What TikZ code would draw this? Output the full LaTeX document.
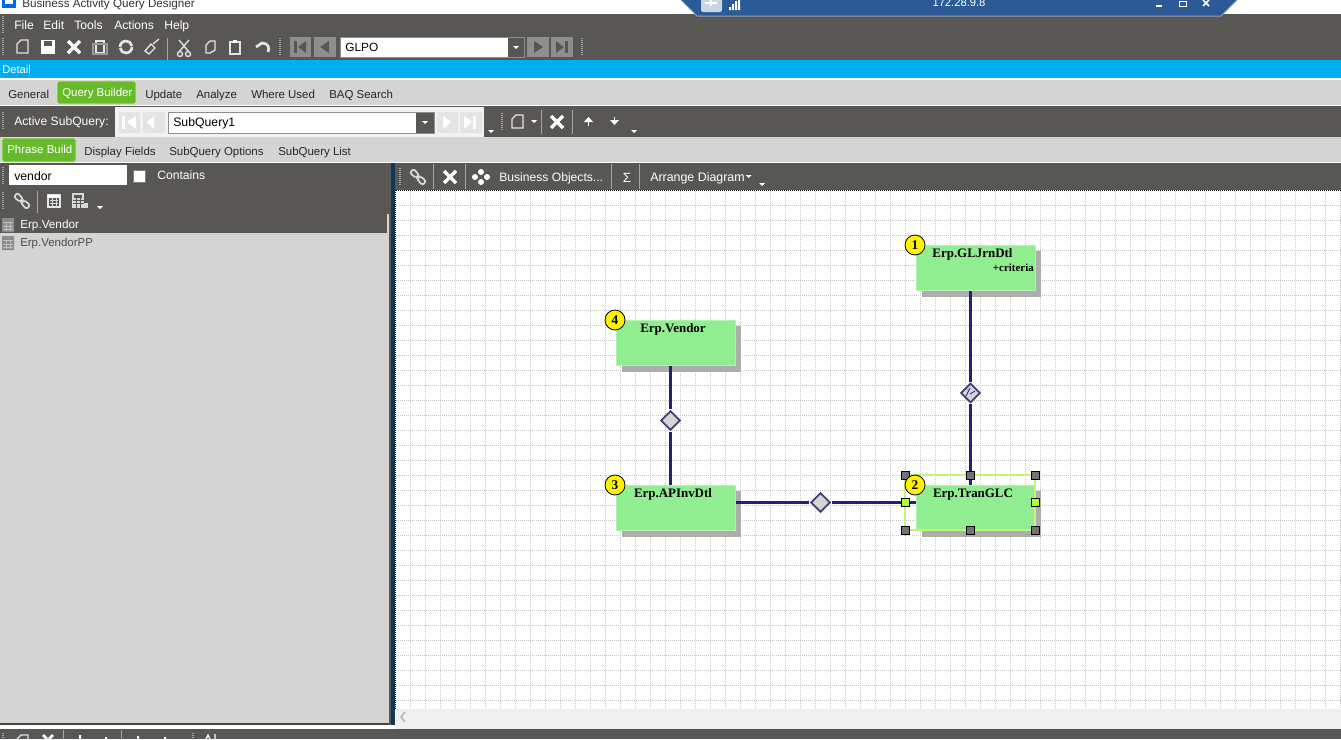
\documentclass[tikz,border=0pt]{standalone}
\usepackage{fontspec}
\setmainfont{Liberation Sans}
\newfontfamily\boxfont{Liberation Serif}
\usetikzlibrary{shapes.geometric,shadows}
\definecolor{barcol}{HTML}{595754}
\definecolor{panelcol}{HTML}{D4D4D4}
\definecolor{skycol}{HTML}{00AEEF}
\definecolor{tabgreen}{HTML}{67BB2A}
\definecolor{boxgreen}{HTML}{90EE90}
\definecolor{linecol}{HTML}{22226E}
\definecolor{diacol}{HTML}{3F3F72}
\definecolor{remotecol}{HTML}{2B5A96}
\definecolor{selcol}{HTML}{C4F47C}
\definecolor{navcol}{HTML}{8E8E8C}
\definecolor{navpale}{HTML}{E4E4E4}
\definecolor{dividercol}{HTML}{0F3A57}
\definecolor{handlegreen}{HTML}{ADFF2F}
\tikzset{
  uitext/.style={anchor=west,inner sep=0pt,yshift=-1.1pt,text height=6pt,text depth=1.8pt,font=\fontsize{8.6}{10}\selectfont},
  bartext/.style={uitext,text=white,font=\fontsize{9.1}{10}\selectfont},
  lighttext/.style={uitext,text=white},
  darktext/.style={uitext,text=black!85},
  tablebox/.style={rectangle,fill=boxgreen,draw=boxgreen!70!white,line width=0.75pt,
    minimum width=89.5pt,minimum height=34pt,inner sep=0pt,
    drop shadow={shadow xshift=4.5pt,shadow yshift=-4.5pt,fill=black!32,opacity=1}},
  tablename/.style={inner sep=0pt,yshift=-0.6pt,text height=6pt,text depth=1.8pt,font=\boxfont\bfseries\fontsize{9.7}{11}\selectfont},
  numbadge/.style={circle,fill=yellow,draw=black,line width=0.6pt,minimum size=15pt,inner sep=0pt,
    font=\boxfont\bfseries\fontsize{10}{10}\selectfont},
  joindia/.style={diamond,aspect=1,fill=panelcol,draw=diacol,line width=1.3pt,minimum size=15pt,
    inner sep=0pt,outer sep=1pt},
  joinline/.style={draw=linecol,line width=1.7pt},
  handle/.style={rectangle,fill=black!55,draw=black,line width=0.5pt,minimum size=6pt,inner sep=0pt},
  greenhandle/.style={handle,fill=handlegreen},
  gridline/.style={draw=black!22,line width=0.5pt,dash pattern=on 0.75pt off 0.75pt},
  sepline/.style={draw=black!35!white,line width=0.5pt},
  iconline/.style={draw=white!90!black,line width=1pt},
  tabcard/.style={rounded corners=1.5pt,fill=tabgreen,draw=white!70!tabgreen,line width=0.6pt},
}
\newcommand{\crossicon}[2]{\draw[white,line width=2.4pt] (#1-6,#2-6) -- (#1+6,#2+6) (#1-6,#2+6) -- (#1+6,#2-6);}
\newcommand{\linkicon}[2]{\draw[black!15,line width=1.3pt,rounded corners=1.5pt] (#1-8,#2-4) -- (#1-5,#2-8) -- (#1-1,#2-5) -- (#1+1,#2-1) -- (#1-2,#2+1) -- cycle;
  \draw[black!15,line width=1.3pt,rounded corners=1.5pt] (#1+8,#2+4) -- (#1+5,#2+8) -- (#1+1,#2+5) -- (#1-1,#2+1) -- (#1+2,#2-1) -- cycle;}
\newcommand{\gripicon}[2]{\draw[black!35!white,line width=1.5pt,dash pattern=on 0.75pt off 0.75pt] (#1,#2-9) -- (#1,#2+9);}
\newcommand{\dropicon}[2]{\fill[white] (#1-3,#2) -- (#1+3,#2) -- (#1,#2+3) -- cycle;}
\begin{document}
\begin{tikzpicture}[x=0.75pt,y=-0.75pt]
\useasboundingbox (0,0) rectangle (1341,739);
\clip (0,0) rectangle (1341,739);
% bands
\fill[white] (0,0) rectangle (1341,739);
\fill[barcol] (0,14) rectangle (1341,60);
\fill[skycol] (0,60) rectangle (1341,78);
\fill[panelcol] (0,80) rectangle (1341,105);
\fill[barcol] (0,106) rectangle (1341,137);
\fill[panelcol] (0,137) rectangle (1341,162);
\fill[barcol] (0,163) rectangle (1341,190);
\fill[barcol] (0,190) rectangle (390,214);
\fill[panelcol] (0,214) rectangle (390,723);
\fill[barcol] (0,214) rectangle (387,233);
\fill[barcol!80!black] (0,723) rectangle (390,725);
\fill[barcol] (0,729) rectangle (1341,739);
\fill[barcol] (389,163) rectangle (391,725);
\fill[dividercol] (391,163) rectangle (395,725);
\fill[black!6] (396,709) rectangle (1341,729);
% canvas grid
\foreach \gx in {410,425,...,1340} \draw[gridline] (\gx,191) -- (\gx,709);
\foreach \gy in {205,220,...,700} \draw[gridline] (396,\gy) -- (1341,\gy);
\draw[black,line width=0.75pt,dash pattern=on 0.75pt off 0.75pt] (396,190.5) -- (1341,190.5) (395.5,190) -- (395.5,709);
\draw[black!28,line width=1.3pt] (405,712) -- (401,717) -- (405,722);
% title and remote bar
\fill[skycol!60!blue] (2,-4) rectangle (16,8);
\fill[white] (5,-4) rectangle (13,4);
\node[anchor=base west,inner sep=0pt,text=black!80,font=\fontsize{8.75}{10}\selectfont] (titletext) at (22,7.5) {Business Activity Query Designer};
\fill[remotecol] (680,-1) -- (697,16) -- (1221,16) -- (1238,-1) -- cycle;
\draw[remotecol!55!white,line width=0.75pt] (680,-1) -- (697,16) -- (1221,16) -- (1238,-1);
\fill[white!75!remotecol,rounded corners=1.5pt] (701,-3) rectangle (722,12);
\draw[white,line width=1.5pt] (711,0) -- (711,6) (705,3) -- (717,3);
\fill[white] (729,7) rectangle (731,10) (732,4) rectangle (734,10) (735,1) rectangle (737,10) (738,-1) rectangle (740,10);
\node[inner sep=0pt,text=white,font=\fontsize{8.4}{10}\selectfont] (hostip) at (959,3) {172.28.9.8};
\fill[white] (1156,5) rectangle (1162,7);
\draw[white,line width=0.75pt] (1179,1) rectangle (1186,6);
\draw[white,line width=1.3pt] (1203,0) -- (1209,6) (1203,6) -- (1209,0);
% menu
\gripicon{3}{25}
\node[bartext] (menufile) at (14,25) {File};
\node[bartext] (menuedit) at (43,25) {Edit};
\node[bartext] (menutools) at (74,25) {Tools};
\node[bartext] (menuactions) at (114,25) {Actions};
\node[bartext] (menuhelp) at (164,25) {Help};
% main toolbar
\gripicon{3}{47}
\draw[iconline] (17,53) -- (17,44) -- (21,40) -- (28,40) -- (28,53) -- cycle;
\fill[white] (41,40) rectangle (55,54);
\fill[barcol] (44,41) rectangle (52,46);
\crossicon{74}{47}
\draw[iconline] (96,41) rectangle (104,53);
\draw[iconline,black!40!white] (93,44) rectangle (107,54);
\draw[iconline,line width=2pt] (120,47) arc (180:350:6);
\draw[iconline,line width=2pt] (132,47) arc (0:170:6);
\draw[iconline] (145,51) -- (151,44) -- (155,48) -- (149,54) -- cycle;
\draw[iconline] (153,44) -- (159,39);
\draw[sepline] (167,38) -- (167,60);
\draw[iconline] (179,40) -- (189,52) (189,40) -- (179,52);
\draw[iconline] (180,54) circle (2.5);
\draw[iconline] (188,54) circle (2.5);
\draw[iconline] (206,45) -- (210,41) -- (215,41) -- (215,50) -- (210,53) -- (206,53) -- cycle;
\draw[iconline] (230,42) rectangle (240,54);
\fill[white] (233,40) rectangle (237,43);
\draw[iconline,line width=2pt] (256,47) -- (262,43) .. controls (268,43) and (270,48) .. (268,52);
\gripicon{280}{47}
\fill[navcol] (290,37) rectangle (311,57);
\fill[navcol] (314,37) rectangle (336,57);
\fill[barcol] (294,41) rectangle (297,53);
\fill[barcol] (306,41) -- (298,47) -- (306,53) -- cycle;
\fill[barcol] (329,41) -- (320,47) -- (329,53) -- cycle;
\fill[white] (340,37) rectangle (508,57);
\fill[barcol] (508,37) rectangle (524,57);
\draw[navcol,line width=0.75pt] (340,37) rectangle (524,57);
\dropicon{516}{46}
\node[uitext,text=black,font=\fontsize{8.9}{10}\selectfont] (glpofield) at (345,47.5) {GLPO};
\fill[navcol] (527,37) rectangle (549,57);
\fill[navcol] (551,37) rectangle (573,57);
\fill[barcol] (534,41) -- (543,47) -- (534,53) -- cycle;
\fill[barcol] (556,41) -- (564,47) -- (556,53) -- cycle;
\fill[barcol] (565,41) rectangle (568,53);
\gripicon{582}{47}
% detail band and first tabs
\node[lighttext,font=\fontsize{8.4}{10}\selectfont] (detailbar) at (2,69) {Detail};
\node[darktext] (tabgeneral) at (8,94) {General};
\path[tabcard] (57,104) -- (57,81) -- (136,81) -- (136,104) -- cycle;
\node[lighttext] (tabquery) at (62,92) {Query Builder};
\node[darktext] (tabupdate) at (145,94) {Update};
\node[darktext] (tabanalyze) at (196,94) {Analyze};
\node[darktext] (tabwhere) at (251,94) {Where Used};
\node[darktext] (tabsearch) at (329,94) {BAQ Search};
% subquery toolbar
\gripicon{3}{121}
\node[bartext] (activelabel) at (14,121) {Active SubQuery:};
\fill[white!95!black] (115,107) rectangle (484,137);
\fill[navpale] (119,112) rectangle (140,133) (143,112) rectangle (165,133) (437,112) rectangle (458,133) (460,112) rectangle (482,133);
\fill[white] (122,116) rectangle (125,129);
\fill[white] (136,116) -- (127,122) -- (136,129) -- cycle;
\fill[white] (154,116) -- (147,122) -- (154,129) -- cycle;
\fill[white] (443,116) -- (451,122) -- (443,129) -- cycle;
\fill[white] (464,116) -- (472,122) -- (464,129) -- cycle;
\fill[white] (473,116) rectangle (476,129);
\fill[white] (168,112) rectangle (416,133);
\fill[barcol] (416,112) rectangle (434,133);
\draw[navcol,line width=0.75pt] (168,112) rectangle (434,133);
\dropicon{425}{121}
\node[uitext,text=black,font=\fontsize{9.2}{10}\selectfont] (subqueryfield) at (173,122) {SubQuery1};
\dropicon{491}{130}
\gripicon{502}{122}
\draw[iconline] (512,128) -- (512,119) -- (516,115) -- (523,115) -- (523,128) -- cycle;
\dropicon{534}{120}
\draw[sepline] (541,110) -- (541,134);
\crossicon{557}{122}
\draw[sepline] (572,110) -- (572,134);
\draw[white,line width=1.2pt] (588.5,126) -- (588.5,120);
\fill[white] (584,122) -- (588.5,117) -- (593,122) -- cycle;
\draw[white,line width=1.2pt] (614.5,117) -- (614.5,122);
\fill[white] (610,120) -- (614.5,125) -- (619,120) -- cycle;
\dropicon{634}{130}
% second tabs
\path[tabcard] (2,162) -- (2,138) -- (76,138) -- (76,162) -- cycle;
\node[lighttext] (tabphrase) at (7,149) {Phrase Build};
\node[darktext] (tabfields) at (84,151) {Display Fields};
\node[darktext] (taboptions) at (169,151) {SubQuery Options};
\node[darktext] (tablist) at (278,151) {SubQuery List};
% left panel
\gripicon{3}{176}
\fill[white] (9,165) rectangle (127,185);
\node[uitext,text=black,font=\fontsize{9.2}{10}\selectfont] (vendorfield) at (14,176) {vendor};
\fill[white] (133,170) rectangle (145,182);
\draw[black!50,line width=0.5pt] (133,170) rectangle (145,182);
\node[bartext] (containslabel) at (157,175.5) {Contains};
\gripicon{3}{201}
\linkicon{22}{201}
\draw[sepline] (37,191) -- (37,213);
\draw[iconline] (48,195) rectangle (60,207);
\fill[white] (48,195) rectangle (60,198);
\draw[black!15,line width=0.75pt] (50,200) -- (58,200) (50,203) -- (58,203) (52,198) -- (52,206) (56,198) -- (56,206);
\fill[black!15] (72,193) rectangle (84,208);
\fill[black!15] (84,203) rectangle (88,208);
\fill[barcol] (74,195) rectangle (82,198);
\draw[barcol,line width=0.6pt] (73,200) -- (84,200) (73,203) -- (84,203) (76,198) -- (76,208) (80,198) -- (80,208);
\dropicon{100}{206}
\fill[black!45] (2,218) rectangle (14,232) (2,236) rectangle (14,250);
\draw[black!25,line width=0.5pt] (3,222) -- (13,222) (3,226) -- (13,226) (3,229) -- (13,229) (6,222) -- (6,231) (10,222) -- (10,231);
\draw[black!25,line width=0.5pt] (3,240) -- (13,240) (3,244) -- (13,244) (3,247) -- (13,247) (6,240) -- (6,249) (10,240) -- (10,249);
\node[lighttext,font=\fontsize{8.8}{10}\selectfont] (listvendor) at (20,224) {Erp.Vendor};
\node[uitext,text=black!70] (listvendorpp) at (20,242) {Erp.VendorPP};
% canvas toolbar
\gripicon{400}{177}
\linkicon{418}{177}
\draw[sepline] (433,164) -- (433,189);
\crossicon{450}{177}
\draw[sepline] (465,164) -- (465,189);
\fill[white] (481,172) circle (3) (475,177) circle (3) (481,182) circle (3) (487,177) circle (3);
\node[bartext] (objectsbutton) at (499,177) {Business Objects...};
\draw[sepline] (611,164) -- (611,189);
\node[inner sep=0pt,text=white,font=\fontsize{10}{11}\selectfont] (sumbutton) at (627,178) {Σ};
\draw[sepline] (639,164) -- (639,189);
\node[bartext,font=\fontsize{9.3}{10}\selectfont] (arrangebutton) at (650,177) {Arrange Diagram};
\dropicon{748.5}{175}
\dropicon{762}{183}
% bottom toolbar edge
\draw[black!35!white,line width=1.5pt,dash pattern=on 0.75pt off 0.75pt] (3,733) -- (3,739);
\draw[iconline] (17,739) -- (21,735) -- (28,735) -- (28,739);
\draw[white,line width=2pt] (43,735) -- (47,739) (53,735) -- (49,739);
\draw[sepline] (63,730) -- (63,739);
\fill[white] (79,735) rectangle (81,739) (105,737) rectangle (107,739);
\draw[sepline] (121,730) -- (121,739);
\fill[white] (137,736) rectangle (139,739) (164,737) rectangle (166,739);
\draw[black!35!white,line width=1.5pt,dash pattern=on 0.75pt off 0.75pt] (193,733) -- (193,739);
\draw[white,line width=1pt] (206,739) -- (208,735) -- (210,739) (215,734) -- (215,739);
% tables
\node[tablebox] (gljrn) at (975.8,268) {};
\node[tablebox] (vendor) at (675.8,343) {};
\node[tablebox] (apinv) at (675.8,508) {};
\node[tablebox] (tranglc) at (975.8,508) {};
\node[tablename] (gljrnname) at (972.5,253.5) {Erp.GLJrnDtl};
\node[inner sep=0pt,anchor=east,text height=6pt,text depth=1.8pt,yshift=-0.6pt,font=\boxfont\bfseries\fontsize{8.2}{9}\selectfont] (gljrncrit) at (1034,267.5) {+criteria};
\node[tablename] (vendorname) at (673,328.5) {Erp.Vendor};
\node[tablename] (apinvname) at (673,493.5) {Erp.APInvDtl};
\node[tablename] (tranglcname) at (973,493.5) {Erp.TranGLC};
% joins
\node[joindia] (joingl) at (970.5,393) {};
\node[joindia] (joinvend) at (670.5,420.5) {};
\node[joindia] (jointran) at (820.5,502.5) {};
\draw[blue!70!black,line width=0.5pt] (966,396) -- (970,388) (970,394) -- (975,391);
\draw[orange,line width=0.5pt] (967,390) -- (969,389);
\draw[joinline] (joingl |- gljrn.south) -- (joingl);
\draw[joinline] (joingl) -- (joingl |- tranglc.north);
\draw[joinline] (joinvend |- vendor.south) -- (joinvend);
\draw[joinline] (joinvend) -- (joinvend |- apinv.north);
\draw[joinline] (jointran -| apinv.east) -- (jointran);
\draw[joinline] (jointran) -- (jointran -| tranglc.west);
% selection frame
\draw[selcol,line width=1pt] (905,475) rectangle (1035,530);
\node[handle] (hnw) at (905,475) {};
\node[handle] (hn) at (970,475) {};
\node[handle] (hne) at (1035,475) {};
\node[greenhandle] (hw) at (905,502.5) {};
\node[greenhandle] (he) at (1035,502.5) {};
\node[handle] (hsw) at (905,530) {};
\node[handle] (hs) at (970,530) {};
\node[handle] (hse) at (1035,530) {};
% badges
\node[numbadge] (badgeone) at (915,245) {1};
\node[numbadge] (badgetwo) at (915,485) {2};
\node[numbadge] (badgethree) at (615,485) {3};
\node[numbadge] (badgefour) at (615,320) {4};
\end{tikzpicture}
\end{document}
